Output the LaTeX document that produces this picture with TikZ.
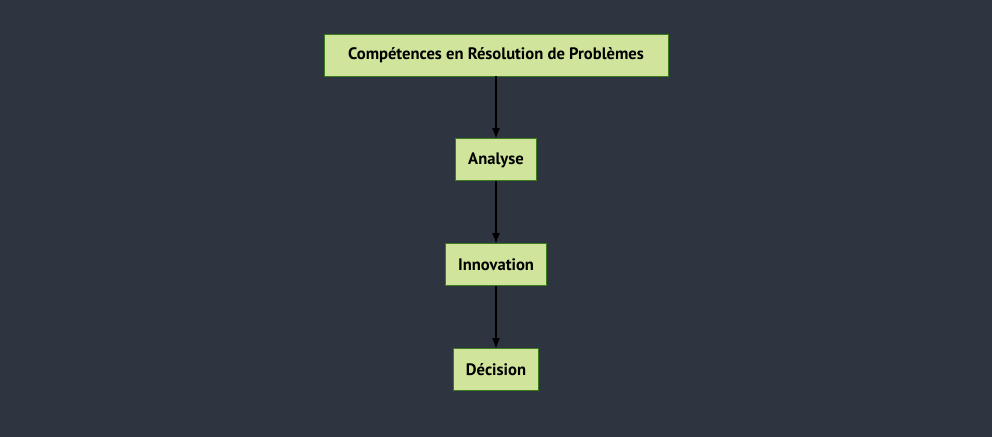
\documentclass[tikz,border=0pt]{standalone}
\usepackage{fontspec}
\setmainfont{PT Sans}
\usepackage{xcolor}
\usepackage{tikz}
\usetikzlibrary{arrows.meta, positioning}

\definecolor{bgdark}{HTML}{2E3440}
\definecolor{boxfill}{HTML}{D0E59B}
\definecolor{boxline}{HTML}{3C7A1E}

\begin{document}
\begin{tikzpicture}[
    node distance=1.55cm,
    box/.style={rectangle, draw=boxline, fill=boxfill, line width=0.7pt,
                minimum height=1.05cm, inner xsep=0.31cm,
                align=center, font=\bfseries\fontsize{11.8}{13}\selectfont},
    arr/.style={-{Latex[length=2.6mm, width=2mm]}, line width=0.8pt, draw=black}
]
\fill[bgdark] (0,0) rectangle (24.8,-10.925);
\useasboundingbox (0,0) rectangle (24.8,-10.925);

\node[box, minimum width=8.6cm] (skills) at (12.4,-1.375) {Compétences en Résolution de Problèmes};
\node[box, below=of skills]     (analyse)    {Analyse};
\node[box, below=of analyse]    (innovation) {Innovation};
\node[box, below=of innovation] (decision)   {Décision};

\draw[arr] (skills)     -- (analyse);
\draw[arr] (analyse)    -- (innovation);
\draw[arr] (innovation) -- (decision);
\end{tikzpicture}
\end{document}
